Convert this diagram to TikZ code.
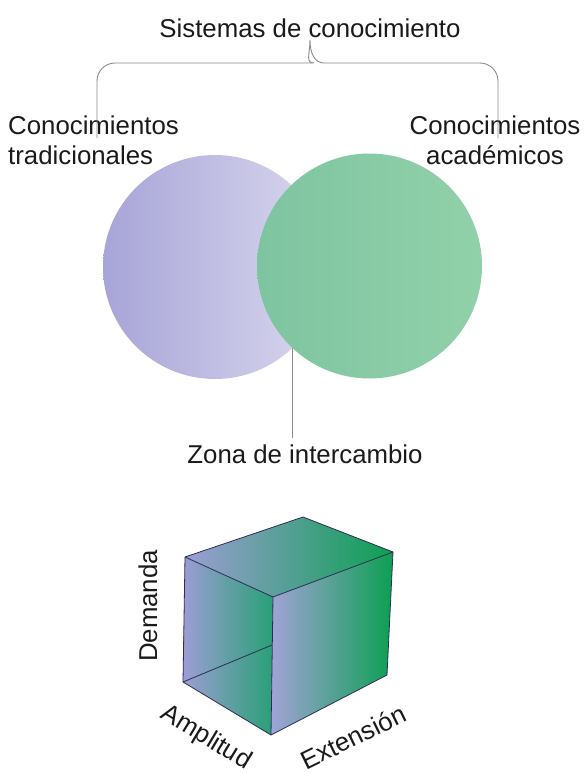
\documentclass[tikz,border=0pt]{standalone}
\usepackage{fontspec}
\setmainfont{Liberation Sans}
\definecolor{lavL}{HTML}{A7A4D8}
\definecolor{lavR}{HTML}{DAD8EE}
\definecolor{grnL}{HTML}{7EC4A0}
\definecolor{grnM}{HTML}{93D3AC}
\definecolor{grnR}{HTML}{91D1AA}
\definecolor{cubeP}{HTML}{9C9ED4}
\definecolor{cubeG}{HTML}{0BA052}
\definecolor{cubeT}{HTML}{27A076}
\definecolor{cubeE}{HTML}{2E2E50}
\definecolor{txt}{HTML}{1A1A1A}
\begin{document}
\begin{tikzpicture}[x=1pt,y=-1pt,
  lbl/.style={font=\fontsize{25.8}{30}\selectfont, text=txt, inner sep=0pt},
  bracket/.style={draw=black!45, line width=0.9pt},
  thinline/.style={draw=black!45, line width=1pt},
  cubeline/.style={draw=cubeE, line width=0.8pt, line join=round}]
\useasboundingbox[fill=white] (0,0) rectangle (586,773);

% Venn circles
\shade[left color=lavL, right color=lavR] (215,267) circle (112);
\shade[left color=grnL, middle color=grnM, right color=grnR] (369.5,266) circle (112.5);

% labels
\node[lbl, anchor=base] (title) at (310,38) {Sistemas de conocimiento};
\node[lbl, anchor=north west, align=left] (trad) at (8,116) {Conocimientos\\tradicionales};
\node[lbl, anchor=north, align=center] (acad) at (495,116) {Conocimientos\\académicos};
\node[lbl, anchor=base] (zona) at (305,463) {Zona de intercambio};

% bracket
\coordinate (tip) at (310,40);
\coordinate (bl) at (97,138);
\coordinate (br) at (498,138);
\draw[bracket] (bl) {[rounded corners=18] -- (97,63) -- (296,63)}
  .. controls (305,63) and (310,54) .. (tip)
  .. controls (310,54) and (315,63) .. (324,63)
  {[rounded corners=18] -- (498,63) -- (br)};

% exchange zone line
\coordinate (lens) at (292,348);
\draw[thinline, shorten >=6pt] (lens) -- (lens |- zona.north);

% cube
\coordinate (A) at (185,557);
\coordinate (B) at (303,517);
\coordinate (C) at (393,552);
\coordinate (D) at (273,597);
\coordinate (E) at (183,682);
\coordinate (F) at (271,735);
\coordinate (G) at (387,675);
\coordinate (H) at (272,645);
\shade[left color=cubeP, right color=cubeT] (A) -- (D) -- (F) -- (E) -- cycle;
\shade[left color=cubeP!95!white, right color=cubeG] (D) -- (C) -- (G) -- (F) -- cycle;
\shade[left color=cubeP, right color=cubeG] (A) -- (B) -- (C) -- (D) -- cycle;
\draw[cubeline] (A) -- (B) -- (C) -- (G) -- (F) -- (E) -- cycle;
\draw[cubeline] (A) -- (D) -- (C);
\draw[cubeline] (D) -- (F);
\draw[cubeline] (E) -- (H);

\node[lbl, rotate=90] (dem) at (148,606) {Demanda};
\node[lbl, rotate=-31] (amp) at (206,738) {Amplitud};
\node[lbl, rotate=26] (ext) at (353,737) {Extensión};
\end{tikzpicture}
\end{document}
